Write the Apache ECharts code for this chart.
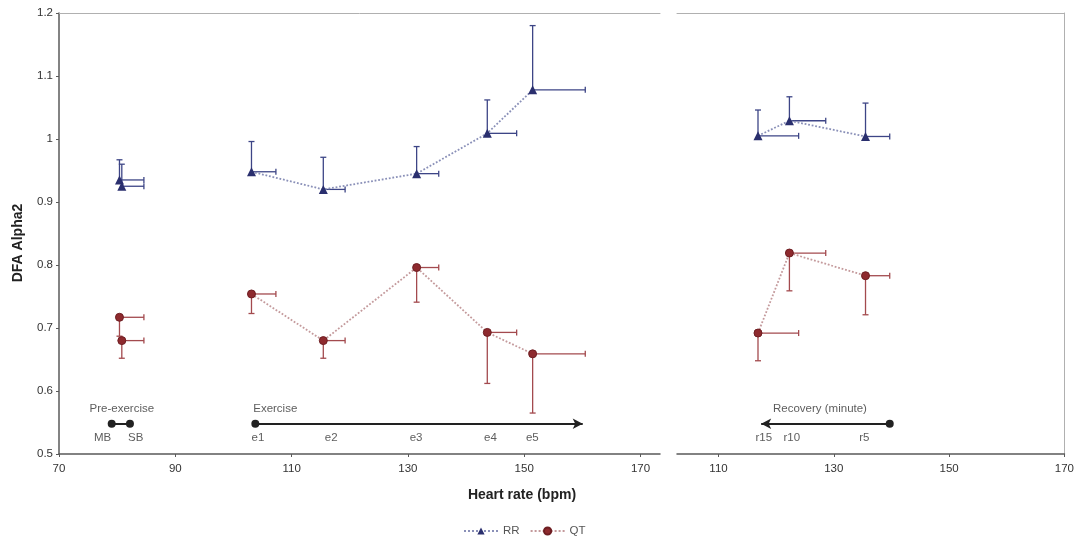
<!DOCTYPE html>
<html>
<head>
<meta charset="utf-8">
<script src="https://cdn.jsdelivr.net/npm/echarts@6/dist/echarts.min.js"></script>
<style>
html,body{margin:0;padding:0;background:#fff;}
#c{width:1077px;height:540px;}
</style>
</head>
<body>
<div id="c"></div>
<script>
// ---------- data ----------
const preLabels = ['MB', 'SB'];
const preHR = [80.4, 80.8];
const preHRErr = [4.2, 3.8];
const preRR = [0.935, 0.925];
const preRRErr = [0.032, 0.035];
const preQT = [0.717, 0.680];
const preQTErr = [0.03, 0.028];

const exLabels = ['e1', 'e2', 'e3', 'e4', 'e5'];
const exHR = [103.1, 115.45, 131.5, 143.65, 151.45];
const exHRErr = [4.2, 3.75, 3.8, 5.05, 9.05];
const exRR = [0.948, 0.920, 0.945, 1.009, 1.078];
const exRRErr = [0.048, 0.051, 0.043, 0.053, 0.102];
const exQT = [0.754, 0.680, 0.796, 0.693, 0.659];
const exQTErr = [0.031, 0.028, 0.055, 0.081, 0.094];

const recLabels = ['r15', 'r10', 'r5'];
const recHR = [116.85, 122.3, 135.5];
const recHRErr = [7.05, 6.3, 4.2];
const recRR = [1.005, 1.029, 1.004];
const recRRErr = [0.041, 0.038, 0.053];
const recQT = [0.692, 0.819, 0.783];
const recQTErr = [0.044, 0.060, 0.062];

// annotation (phase) values
const phaseY = 0.548;
const phaseLabelY = 0.526;
const phaseTitleY = 0.571;
const preBar = [79.06, 82.2];
const preLabelX = [77.5, 83.2];
const exBar = [103.76, 160.06];
const exLabelX = [104.2, 116.8, 131.4, 144.2, 151.4];
const recBar = [139.7, 117.4];
const recLabelX = [117.85, 122.7, 135.3];
const preTitleX = 80.8;
const exTitleX = 103.4;
const recTitleX = 127.6;

const xTicksLeft = [70, 90, 110, 130, 150, 170];
const xTicksRight = [110, 130, 150, 170];

// ---------- styles ----------
const RR_C = '#2a2f6e';
const RR_ERR = '#3d4586';
const RR_LINE = '#8a90b8';
const QT_C = '#8e2a2e';
const QT_ERR = '#a34a4e';
const QT_LINE = '#c49a9c';
const AX = '#5a5a5a';
const TXT = '#333';
const FONT = 'Liberation Sans, Arial, sans-serif';

function zip(xs, ys) { return xs.map((x, i) => [x, ys[i]]); }
function errData(xs, ys, dxs, dys) { return xs.map((x, i) => [x, ys[i], dxs[i], dys[i]]); }

function errRender(color, dir) {
  return function (params, api) {
    const x = api.value(0), y = api.value(1), dx = api.value(2), dy = api.value(3) * dir;
    const p = api.coord([x, y]);
    const ph = api.coord([x + dx, y]);
    const pv = api.coord([x, y + dy]);
    const c = 3;
    const st = { stroke: color, lineWidth: 1.3 };
    return {
      type: 'group', children: [
        { type: 'line', shape: { x1: p[0], y1: p[1], x2: ph[0], y2: ph[1] }, style: st },
        { type: 'line', shape: { x1: ph[0], y1: ph[1] - c, x2: ph[0], y2: ph[1] + c }, style: st },
        { type: 'line', shape: { x1: p[0], y1: p[1], x2: pv[0], y2: pv[1] }, style: st },
        { type: 'line', shape: { x1: pv[0] - c, y1: pv[1], x2: pv[0] + c, y2: pv[1] }, style: st }
      ]
    };
  };
}

function textSeries(xAxisIndex, xs, y, labels, align) {
  return {
    type: 'scatter', xAxisIndex: xAxisIndex, yAxisIndex: xAxisIndex, symbolSize: 0, silent: true, z: 5,
    data: xs.map((x, i) => [x, y, labels[i]]),
    label: {
      show: true, position: 'inside', align: align || 'center', verticalAlign: 'middle',
      formatter: p => p.data[2], color: TXT, fontSize: 11.5, fontFamily: FONT
    }
  };
}

function phaseLine(xAxisIndex, xs, symbols) {
  return {
    type: 'line', xAxisIndex: xAxisIndex, yAxisIndex: xAxisIndex, silent: true, z: 4,
    data: [],
    markLine: {
      silent: true, symbol: symbols, symbolSize: [8, 10],
      lineStyle: { color: '#222', width: 2, type: 'solid' },
      label: { show: false },
      data: [[{ coord: [xs[0], phaseY] }, { coord: [xs[1], phaseY] }]]
    }
  };
}

const xAxisBase = {
  type: 'value', scale: false,
  axisLine: { show: true, onZero: false, lineStyle: { color: AX, width: 1.5 } },
  axisTick: { show: true, length: 3, lineStyle: { color: AX } },
  splitLine: { show: false },
  axisLabel: { color: TXT, fontSize: 11.5, fontFamily: FONT, margin: 9 }
};

const option = {
  animation: false,
  backgroundColor: '#ffffff',
  grid: [
    { left: 59, top: 13, width: 601, height: 441 },
    { left: 677, top: 13, width: 390, height: 441 }
  ],
  xAxis: [
    Object.assign({}, xAxisBase, {
      gridIndex: 0, min: 70, max: 173.35,
      axisTick: { show: true, length: 3, lineStyle: { color: AX }, customValues: xTicksLeft },
      axisLabel: Object.assign({}, xAxisBase.axisLabel, { customValues: xTicksLeft })
    }),
    Object.assign({}, xAxisBase, {
      gridIndex: 1, min: 102.8, max: 170,
      axisTick: { show: true, length: 3, lineStyle: { color: AX }, customValues: xTicksRight },
      axisLabel: Object.assign({}, xAxisBase.axisLabel, { customValues: xTicksRight })
    }),
    { type: 'value', gridIndex: 0, position: 'top', min: 70, max: 173.35,
      axisLine: { show: true, onZero: false, lineStyle: { color: '#b0b0b0', width: 1 } },
      axisTick: { show: false }, axisLabel: { show: false }, splitLine: { show: false } },
    { type: 'value', gridIndex: 1, position: 'top', min: 102.8, max: 170,
      axisLine: { show: true, onZero: false, lineStyle: { color: '#b0b0b0', width: 1 } },
      axisTick: { show: false }, axisLabel: { show: false }, splitLine: { show: false } }
  ],
  yAxis: [
    { type: 'value', gridIndex: 0, min: 0.5, max: 1.2, interval: 0.1,
      axisLine: { show: true, onZero: false, lineStyle: { color: AX, width: 1.5 } },
      axisTick: { show: true, length: 3, lineStyle: { color: AX } },
      splitLine: { show: false },
      axisLabel: { color: TXT, fontSize: 11.5, fontFamily: FONT, margin: 6 } },
    { type: 'value', gridIndex: 1, min: 0.5, max: 1.2, interval: 0.1, position: 'right',
      axisLine: { show: true, onZero: false, lineStyle: { color: '#b0b0b0', width: 1 } },
      axisTick: { show: false }, axisLabel: { show: false }, splitLine: { show: false } }
  ],
  legend: {
    data: ['RR', 'QT'], top: 520, left: 458, itemWidth: 34, itemHeight: 9, itemGap: 10,
    textStyle: { color: '#555', fontSize: 11.5, fontFamily: FONT }
  },
  graphic: [
    { type: 'text', x: 18, y: 243, rotation: Math.PI / 2,
      style: { text: 'DFA Alpha2', font: 'bold 14px ' + FONT, fill: '#222', align: 'center', verticalAlign: 'middle' } },
    { type: 'text', x: 522, y: 495,
      style: { text: 'Heart rate (bpm)', font: 'bold 14px ' + FONT, fill: '#222', align: 'center', verticalAlign: 'middle' } }
  ],
  series: [
    // RR
    { name: 'RR', type: 'line', xAxisIndex: 0, yAxisIndex: 0, z: 3,
      data: zip(exHR, exRR), symbol: 'triangle', symbolSize: 9,
      itemStyle: { color: RR_C }, lineStyle: { color: RR_LINE, type: 'dotted', width: 1.8 } },
    { name: 'RR', type: 'line', xAxisIndex: 1, yAxisIndex: 1, z: 3,
      data: zip(recHR, recRR), symbol: 'triangle', symbolSize: 9,
      itemStyle: { color: RR_C }, lineStyle: { color: RR_LINE, type: 'dotted', width: 1.8 } },
    { name: 'RR', type: 'scatter', xAxisIndex: 0, yAxisIndex: 0, z: 3,
      data: zip(preHR, preRR), symbol: 'triangle', symbolSize: 9, itemStyle: { color: RR_C, opacity: 1 } },
    // QT
    { name: 'QT', type: 'line', xAxisIndex: 0, yAxisIndex: 0, z: 3,
      data: zip(exHR, exQT), symbol: 'circle', symbolSize: 8,
      itemStyle: { color: QT_C, borderColor: '#6e1e22', borderWidth: 1 }, lineStyle: { color: QT_LINE, type: 'dotted', width: 1.8 } },
    { name: 'QT', type: 'line', xAxisIndex: 1, yAxisIndex: 1, z: 3,
      data: zip(recHR, recQT), symbol: 'circle', symbolSize: 8,
      itemStyle: { color: QT_C, borderColor: '#6e1e22', borderWidth: 1 }, lineStyle: { color: QT_LINE, type: 'dotted', width: 1.8 } },
    { name: 'QT', type: 'scatter', xAxisIndex: 0, yAxisIndex: 0, z: 3,
      data: zip(preHR, preQT), symbol: 'circle', symbolSize: 8,
      itemStyle: { color: QT_C, borderColor: '#6e1e22', borderWidth: 1, opacity: 1 } },
    // error bars
    { type: 'custom', xAxisIndex: 0, yAxisIndex: 0, z: 2, silent: true, renderItem: errRender(RR_ERR, 1),
      data: errData(preHR.concat(exHR), preRR.concat(exRR), preHRErr.concat(exHRErr), preRRErr.concat(exRRErr)) },
    { type: 'custom', xAxisIndex: 1, yAxisIndex: 1, z: 2, silent: true, renderItem: errRender(RR_ERR, 1),
      data: errData(recHR, recRR, recHRErr, recRRErr) },
    { type: 'custom', xAxisIndex: 0, yAxisIndex: 0, z: 2, silent: true, renderItem: errRender(QT_ERR, -1),
      data: errData(preHR.concat(exHR), preQT.concat(exQT), preHRErr.concat(exHRErr), preQTErr.concat(exQTErr)) },
    { type: 'custom', xAxisIndex: 1, yAxisIndex: 1, z: 2, silent: true, renderItem: errRender(QT_ERR, -1),
      data: errData(recHR, recQT, recHRErr, recQTErr) },
    // phase annotations
    phaseLine(0, preBar, ['circle', 'circle']),
    phaseLine(0, exBar, ['circle', 'arrow']),
    phaseLine(1, recBar, ['circle', 'arrow']),
    textSeries(0, preLabelX, phaseLabelY, preLabels),
    textSeries(0, exLabelX, phaseLabelY, exLabels),
    textSeries(1, recLabelX, phaseLabelY, recLabels),
    textSeries(0, [preTitleX], phaseTitleY, ['Pre-exercise']),
    textSeries(0, [exTitleX], phaseTitleY, ['Exercise'], 'left'),
    textSeries(1, [recTitleX], phaseTitleY, ['Recovery (minute)'])
  ]
};

const chart = echarts.init(document.getElementById('c'), null, { renderer: 'canvas' });
chart.setOption(option);
</script>
</body>
</html>
